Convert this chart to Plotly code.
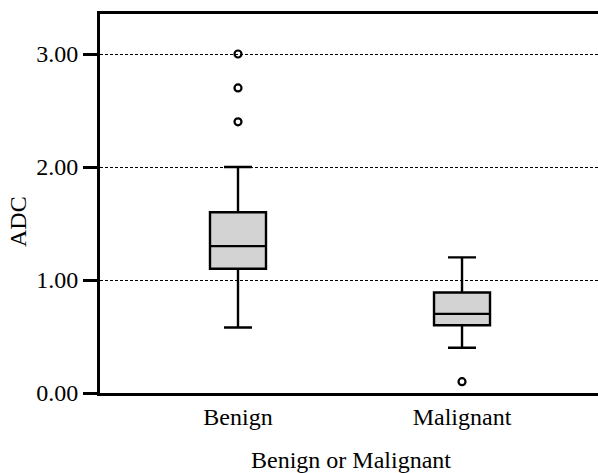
import plotly.graph_objects as go

categories = ["Benign", "Malignant"]
q1 = [1.10, 0.60]
median = [1.30, 0.70]
q3 = [1.60, 0.89]
lowerfence = [0.58, 0.40]
upperfence = [2.00, 1.20]
outliers = {"Benign": [2.40, 2.70, 3.00], "Malignant": [0.10]}
yticks = [0, 1, 2, 3]
yticklabels = ["0.00", "1.00", "2.00", "3.00"]
xtitle = "Benign or Malignant"
ytitle = "ADC"

FONT = "Liberation Serif, Times New Roman, serif"
FS = 24
L, R, T, B, W, H = 100, 0, 14, 80, 598, 473
PH = H - T - B

fig = go.Figure()
fig.add_trace(go.Box(
    x=categories, q1=q1, median=median, q3=q3,
    lowerfence=lowerfence, upperfence=upperfence,
    width=0.25, whiskerwidth=0.5,
    fillcolor="#d3d3d3", line=dict(color="black", width=2.4),
    boxpoints=False, showlegend=False, hoverinfo="skip",
))
for cat, vals in outliers.items():
    fig.add_trace(go.Scatter(
        x=[cat] * len(vals), y=vals, mode="markers",
        marker=dict(symbol="circle-open", size=7, color="black", line=dict(width=2.2, color="black")),
        showlegend=False, hoverinfo="skip",
    ))

fig.update_layout(
    width=W, height=H,
    margin=dict(l=L, r=R, t=T, b=B),
    paper_bgcolor="white", plot_bgcolor="white",
    font=dict(family=FONT, size=FS, color="black"),
    annotations=[
        dict(text=xtitle, xref="paper", yref="paper",
             x=(350.5 - L) / (W - L - R), y=(H - B - 460) / PH,
             xanchor="center", yanchor="middle", showarrow=False,
             font=dict(family=FONT, size=FS, color="black")),
        dict(text=ytitle, xref="paper", yref="paper", textangle=-90,
             x=(18 - L) / (W - L - R), y=(H - B - 222) / PH,
             xanchor="center", yanchor="middle", showarrow=False,
             font=dict(family=FONT, size=FS, color="black")),
    ],
)
fig.update_xaxes(
    type="category", range=[-0.616, 1.607], automargin=False,
    showline=True, linecolor="black", linewidth=2.7, mirror=True,
    ticks="", showgrid=False,
    tickfont=dict(family=FONT, size=FS, color="black"),
)
fig.update_yaxes(
    range=[0, 3.354], tickvals=yticks, ticktext=yticklabels, automargin=False,
    showline=True, linecolor="black", linewidth=2.7,
    ticks="outside", ticklen=14, tickwidth=2.5, tickcolor="black",
    showgrid=True, gridcolor="black", gridwidth=1, griddash="3px,2px",
    zeroline=False, tickfont=dict(family=FONT, size=FS, color="black"),
)
fig.write_html(
    "out.html",
    config={"displayModeBar": False},
    post_script="document.body.style.margin='0';document.body.style.overflow='hidden';",
)
